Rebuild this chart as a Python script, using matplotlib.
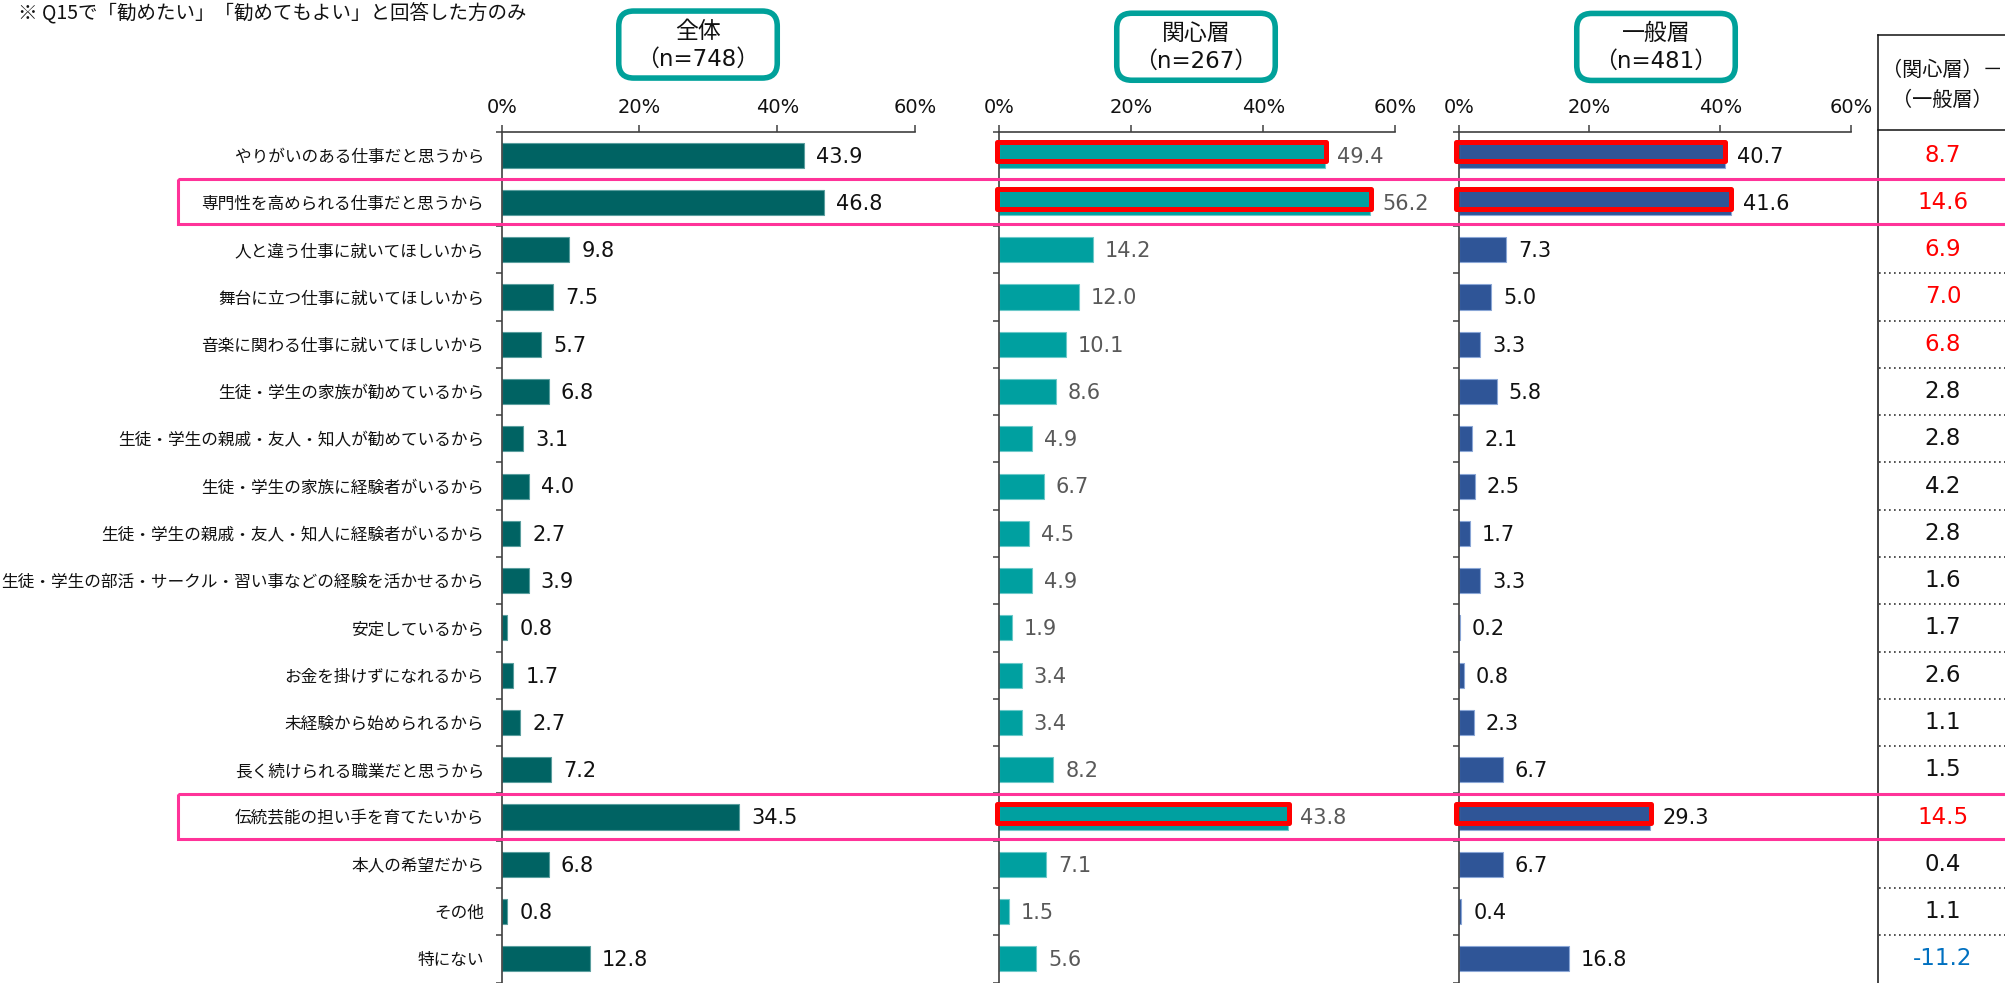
import matplotlib
matplotlib.use('Agg')
import matplotlib.pyplot as plt
from matplotlib.patches import FancyBboxPatch, Rectangle
from matplotlib.lines import Line2D
import matplotlib.transforms as mtrans

categories = [
    'やりがいのある仕事だと思うから',
    '専門性を高められる仕事だと思うから',
    '人と違う仕事に就いてほしいから',
    '舞台に立つ仕事に就いてほしいから',
    '音楽に関わる仕事に就いてほしいから',
    '生徒・学生の家族が勧めているから',
    '生徒・学生の親戚・友人・知人が勧めているから',
    '生徒・学生の家族に経験者がいるから',
    '生徒・学生の親戚・友人・知人に経験者がいるから',
    '生徒・学生の部活・サークル・習い事などの経験を活かせるから',
    '安定しているから',
    'お金を掛けずになれるから',
    '未経験から始められるから',
    '長く続けられる職業だと思うから',
    '伝統芸能の担い手を育てたいから',
    '本人の希望だから',
    'その他',
    '特にない',
]
total = [43.9, 46.8, 9.8, 7.5, 5.7, 6.8, 3.1, 4.0, 2.7, 3.9, 0.8, 1.7, 2.7, 7.2, 34.5, 6.8, 0.8, 12.8]
interested = [49.4, 56.2, 14.2, 12.0, 10.1, 8.6, 4.9, 6.7, 4.5, 4.9, 1.9, 3.4, 3.4, 8.2, 43.8, 7.1, 1.5, 5.6]
general = [40.7, 41.6, 7.3, 5.0, 3.3, 5.8, 2.1, 2.5, 1.7, 3.3, 0.2, 0.8, 2.3, 6.7, 29.3, 6.7, 0.4, 16.8]
diff = [8.7, 14.6, 6.9, 7.0, 6.8, 2.8, 2.8, 4.2, 2.8, 1.6, 1.7, 2.6, 1.1, 1.5, 14.5, 0.4, 1.1, -11.2]

panel_titles = ['全体', '関心層', '一般層']
panel_n = ['（n=748）', '（n=267）', '（n=481）']
xticks = [0, 20, 40, 60]
xtick_labels = ['0%', '20%', '40%', '60%']
table_header = ['（関心層）－', '（一般層）']
title = '※ Q15で「勧めたい」「勧めてもよい」と回答した方のみ'
pink_rows = [1, 14]
red_rows = [0, 1, 14]

plt.rcParams['font.family'] = ['Noto Sans CJK JP', 'DejaVu Sans']

W, H = 2005, 983
fig = plt.figure(figsize=(W / 100, H / 100), dpi=100)
fig.patch.set_facecolor('white')


def fx(x):
    return x / W


def fy(y):
    return 1 - y / H


top_px, bot_px = 131.5, 982.5
panels = [(501.7, 915.0), (999.3, 1395.3), (1458.7, 1851.0)]
bar_colors = ['#006363', '#00A0A0', '#2F5597']
edge_colors = ['#5a9e9e', '#6cc9c9', '#8aa6d6']
val_colors = ['#111111', '#595959', '#111111']
spine_col = '#404040'

n = len(categories)
ypos = list(range(n))
axes = []
for k, ((x0, x1), vals) in enumerate(zip(panels, [total, interested, general])):
    ax = fig.add_axes([fx(x0), fy(bot_px), fx(x1) - fx(x0), (bot_px - top_px) / H])
    ax.set_facecolor('none')
    ax.barh(ypos, vals, height=0.53, color=bar_colors[k], edgecolor=edge_colors[k], linewidth=0.8, zorder=2)
    ax.set_xlim(0, 60)
    ax.set_ylim(n - 0.5, -0.5)
    ax.xaxis.tick_top()
    ax.set_xticks(xticks, xtick_labels)
    ax.tick_params(axis='x', direction='out', length=5, width=1.1, color=spine_col,
                   pad=5.8, labelsize=14, labelfontfamily='DejaVu Sans', labelcolor='#111111')
    ax.set_yticks(ypos)
    if k == 0:
        ax.set_yticklabels(categories, fontsize=12, color='#111111')
    else:
        ax.set_yticklabels([])
    ax.set_yticks([i - 0.5 for i in range(n + 1)], minor=True)
    ax.tick_params(axis='y', which='major', length=0, pad=12.7)
    ax.tick_params(axis='y', which='minor', length=4, width=1.1, color=spine_col)
    for s in ['right', 'bottom']:
        ax.spines[s].set_visible(False)
    for s in ['top', 'left']:
        ax.spines[s].set_color(spine_col)
        ax.spines[s].set_linewidth(1.2)
    for i, v in enumerate(vals):
        ax.annotate(f'{v:.1f}', xy=(v, i), xytext=(8.6, -1), textcoords='offset points',
                    va='center', ha='left', fontsize=15, family='DejaVu Sans', color=val_colors[k])
    if k > 0:
        for i in red_rows:
            ax.add_patch(Rectangle((-0.4, i - 0.28), vals[i] + 0.5, 0.41, fill=False,
                                   ec='#FF0000', lw=3.6, joinstyle='round', clip_on=False, zorder=6))
    axes.append(ax)

# header boxes
box_w = 164.0
box_specs = [(698.0, 8.3), (1196.0, 10.5), (1656.0, 10.7)]
lw_px = 5.5
for (cx, ytop), t, nn in zip(box_specs, panel_titles, panel_n):
    x0 = cx - box_w / 2 + lw_px / 2
    y0 = ytop + lw_px / 2
    w = box_w - lw_px
    h = 72.5 - lw_px
    patch = FancyBboxPatch((x0 / 100, (H - y0 - h) / 100), w / 100, h / 100,
                           boxstyle='round,pad=0,rounding_size=0.15',
                           transform=fig.dpi_scale_trans, ec='#00A19A', fc='white', lw=4.0, zorder=3)
    fig.add_artist(patch)
    fig.text(fx(cx), fy(ytop + 23), t, ha='center', va='center', fontsize=16.5, color='#111111', zorder=4)
    fig.text(fx(cx), fy(ytop + 51), nn, ha='center', va='center', fontsize=16.5,
             family=['DejaVu Sans', 'Noto Sans CJK JP'], color='#111111', zorder=4)

# title
fig.text(fx(18), fy(14), title, ha='left', va='center', fontsize=14, color='#111111')

# table
blend = mtrans.blended_transform_factory(fig.transFigure, axes[0].transData)
tx0 = 1878.3
fig.add_artist(Line2D([fx(tx0), fx(tx0)], [fy(35), 0], color='#111111', lw=1.1))
fig.add_artist(Line2D([fx(tx0), 1], [fy(35), fy(35)], color='#111111', lw=1.1))
fig.add_artist(Line2D([fx(tx0), 1], [fy(129.5), fy(129.5)], color='#111111', lw=1.1))
fig.text(fx(1942), fy(70), table_header[0], ha='center', va='center', fontsize=14.5, color='#111111')
fig.text(fx(1942), fy(100), table_header[1], ha='center', va='center', fontsize=14.5, color='#111111')

skip = set()
for r in pink_rows:
    skip.add(r - 0.5)
    skip.add(r + 0.5)
for b in [i + 0.5 for i in range(n - 1)]:
    if b in skip:
        continue
    fig.add_artist(Line2D([fx(tx0 + 1), 1], [b, b], transform=blend, color='#333333',
                          lw=1.2, linestyle=(0, (1, 2))))

for i, d in enumerate(diff):
    if d >= 5:
        c = '#FF0000'
    elif d <= -5:
        c = '#0070C0'
    else:
        c = '#111111'
    fig.text(fx(1943), i, f'{d:.1f}', transform=blend, ha='center', va='center',
             fontsize=16.5, family='DejaVu Sans', color=c)

# pink highlight rows
for r in pink_rows:
    fig.add_artist(Rectangle((fx(178.2), r - 0.495), 1.2, 0.96, transform=blend, fill=False,
                             ec='#FF3399', lw=2.2, zorder=10, clip_on=False))

fig.savefig('out.png', dpi=100, facecolor='white')
